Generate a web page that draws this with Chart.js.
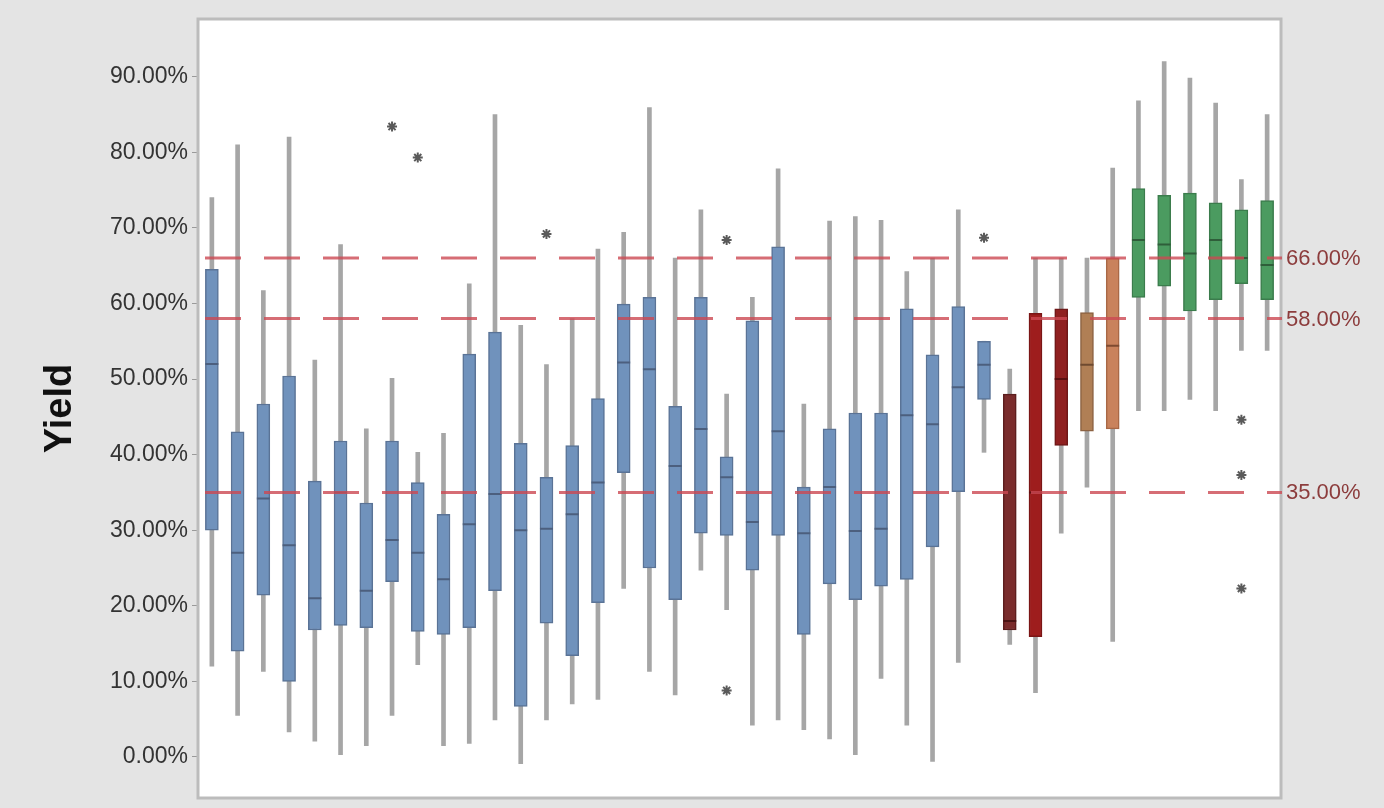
<!DOCTYPE html>
<html>
<head>
<meta charset="utf-8">
<script src="https://cdn.jsdelivr.net/npm/chart.js@4.4.1/dist/chart.umd.min.js"></script>
<style>
  html, body { margin: 0; padding: 0; background: #e4e4e4; }
  #wrap { width: 1384px; height: 808px; }
</style>
</head>
<body>
<div id="wrap"><canvas id="boxChart" width="1384" height="808"></canvas></div>
<script>
// box plot values (percent)
const boxes = ['1','2','3','4','5','6','7','8','9','10','11','12','13','14','15','16','17','18','19','20','21',
    '22','23','24','25','26','27','28','29','30','31','32','33','34','35','36','37','38','39','40','41','42'];
const whiskerLow = [12, 5.5, 11.3, 3.3, 2.1, 0.3, 1.5, 5.5, 12.2, 1.5, 1.8, 4.9, -0.9, 4.9, 7, 7.6, 22.3, 11.3, 8.2, 24.7, 19.5,
    4.2, 4.9, 3.6, 2.4, 0.3, 10.4, 4.2, -0.6, 12.5, 40.3, 14.9, 8.5, 29.6, 35.7, 15.3, 45.8, 45.8, 47.3, 45.8, 53.8, 53.8];
const q1 = [30, 14, 21.4, 10, 16.8, 17.4, 17.1, 23.2, 16.6, 16.2, 17.1, 22, 6.7, 17.7, 13.4, 20.4, 37.6, 25, 20.8, 29.6, 29.3,
    24.7, 29.3, 16.2, 22.9, 20.8, 22.6, 23.5, 27.8, 35.1, 47.3, 16.8, 15.9, 41.2, 43.1, 43.4, 60.8, 62.3, 59, 60.5, 62.6, 60.5];
const median = [52, 27, 34.2, 28, 21, 35, 22, 28.7, 27, 23.5, 30.8, 34.8, 30, 30.2, 32.1, 36.3, 52.2, 51.3, 38.5, 43.4, 37,
    31.1, 43.1, 29.6, 35.7, 29.9, 30.2, 45.2, 44, 48.9, 51.9, 18, 35, 50, 51.9, 54.4, 68.4, 67.8, 66.6, 68.4, 66, 65.1];
const q3 = [64.5, 43, 46.7, 50.4, 36.5, 41.8, 33.6, 41.8, 36.3, 32.1, 53.3, 56.2, 41.5, 37, 41.2, 47.4, 59.9, 60.8, 46.4, 60.8, 39.7,
    57.7, 67.5, 35.7, 43.4, 45.5, 45.5, 59.3, 53.2, 59.6, 55, 48, 58.7, 59.3, 58.8, 66, 75.2, 74.3, 74.6, 73.3, 72.4, 73.6];
const whiskerHigh = [74, 81, 61.7, 82, 52.5, 67.8, 43.4, 50.1, 40.3, 42.8, 62.6, 85, 57.1, 51.9, 58, 67.2, 69.4, 85.9, 66, 72.4, 48,
    60.8, 77.8, 46.7, 70.9, 71.5, 71, 64.2, 66, 72.4, 55, 51.3, 66, 66, 66, 77.9, 86.8, 92, 89.8, 86.5, 76.4, 85];

// outliers (box, value)
const outlierBox = ['8', '9', '14', '21', '21', '31', '41', '41', '41'];
const outlierValue = [83.4, 79.3, 69.2, 68.4, 8.8, 68.7, 44.6, 37.3, 22.3];

// reference lines and y ticks
const refLines = [66, 58, 35];
const yTicks = [0, 10, 20, 30, 40, 50, 60, 70, 80, 90];

// colours: 31 blue boxes, then red, tan/orange and green groups
const boxFill = [], boxEdge = [], medColor = [];
boxes.forEach((b, i) => {
    let f, e, m;
    if (i < 31) { f = '#7092bc'; e = '#5a7396'; m = '#4c5f7e'; }
    else if (i === 31) { f = '#7a2c2c'; e = '#5c1e1e'; m = '#4a1414'; }
    else if (i === 32) { f = '#9e1d1d'; e = '#7a1515'; m = '#5e1010'; }
    else if (i === 33) { f = '#8f2020'; e = '#6e1818'; m = '#5a1010'; }
    else if (i === 34) { f = '#b07f55'; e = '#8c6242'; m = '#6e4a30'; }
    else if (i === 35) { f = '#c9825c'; e = '#a86846'; m = '#7e4a30'; }
    else { f = '#4b9b60'; e = '#3b7c4c'; m = '#2f5e3a'; }
    boxFill.push(f); boxEdge.push(e); medColor.push(m);
});

const frame = {
    id: 'frame',
    beforeDraw(chart) {
        const c = chart.ctx;
        c.save();
        c.fillStyle = '#e4e4e4';
        c.fillRect(0, 0, chart.width, chart.height);
        c.restore();
    },
    beforeDatasetsDraw(chart) {
        const c = chart.ctx, a = chart.chartArea;
        c.save();
        c.fillStyle = '#ffffff';
        c.fillRect(a.left, a.top, a.right - a.left, a.bottom - a.top);
        c.strokeStyle = '#bcbcbc';
        c.lineWidth = 3;
        c.strokeRect(a.left - 1, a.top - 1, a.right - a.left + 2, a.bottom - a.top + 2);
        c.restore();
    },
    afterDatasetsDraw(chart) {
        const c = chart.ctx, a = chart.chartArea, y = chart.scales.y;
        c.save();
        refLines.forEach(v => {
            const py = y.getPixelForValue(v);
            c.strokeStyle = 'rgba(204,72,82,0.8)';
            c.lineWidth = 3;
            c.setLineDash([36, 23]);
            c.beginPath();
            c.moveTo(a.left + 6, py);
            c.lineTo(a.right + 2, py);
            c.stroke();
            c.setLineDash([]);
            c.fillStyle = '#8c3c3c';
            c.font = '22px "Liberation Sans", Arial, sans-serif';
            c.textBaseline = 'middle';
            c.textAlign = 'left';
            c.fillText(v.toFixed(2) + '%', a.right + 6, py + 1);
        });
        c.restore();
    }
};

new Chart(document.getElementById('boxChart'), {
    type: 'bar',
    data: {
        labels: boxes,
        datasets: [
            {
                label: 'whisker',
                data: boxes.map((b, i) => [whiskerLow[i], whiskerHigh[i]]),
                backgroundColor: '#a6a6a6',
                barThickness: 4,
                order: 4
            },
            {
                label: 'box',
                data: boxes.map((b, i) => [q1[i], q3[i]]),
                backgroundColor: boxFill,
                borderColor: boxEdge,
                borderWidth: 1.5,
                borderSkipped: false,
                barThickness: 13,
                order: 3
            },
            {
                type: 'line',
                label: 'median',
                data: median,
                showLine: false,
                pointStyle: 'line',
                pointRadius: 6.5,
                pointBorderWidth: 2,
                pointBorderColor: medColor,
                order: 2
            },
            {
                type: 'line',
                label: 'outlier',
                data: outlierBox.map((b, i) => ({ x: b, y: outlierValue[i] })),
                showLine: false,
                pointStyle: 'star',
                pointRadius: 5,
                pointBorderWidth: 2,
                pointBorderColor: '#5a5a5a',
                order: 1
            }
        ]
    },
    options: {
        responsive: false,
        animation: false,
        grouped: false,
        layout: { padding: { left: 0, right: 104, top: 20, bottom: 11 } },
        plugins: { legend: { display: false }, tooltip: { enabled: false } },
        scales: {
            x: {
                display: false,
                offset: true
            },
            y: {
                min: -5.3,
                max: 97.5,
                afterBuildTicks(scale) {
                    scale.ticks = yTicks.map(v => ({ value: v }));
                },
                afterFit(scale) {
                    scale.width = 199;
                    scale.paddingTop = 0;
                    scale.paddingBottom = 0;
                },
                grid: { drawOnChartArea: false, tickLength: 7, color: '#9a9a9a' },
                border: { display: false },
                ticks: {
                    color: '#333333',
                    padding: 4,
                    font: { family: '"Liberation Sans", Arial, sans-serif', size: 23 },
                    callback: v => v.toFixed(2) + '%'
                },
                title: {
                    display: true,
                    text: 'Yield',
                    color: '#111',
                    padding: { top: 38, bottom: 0 },
                    font: { family: '"Liberation Sans", Arial, sans-serif', size: 38, weight: 'bold' }
                }
            }
        }
    },
    plugins: [frame]
});
</script>
</body>
</html>
